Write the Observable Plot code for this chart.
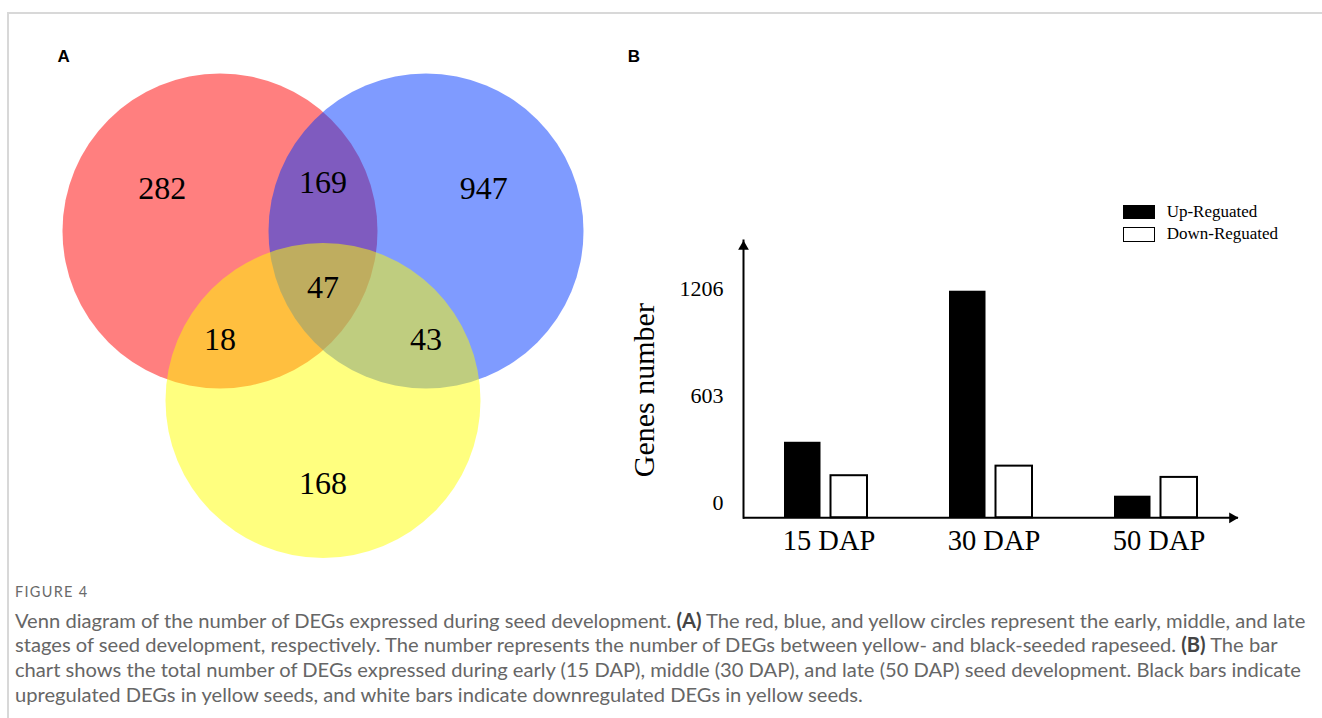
<!DOCTYPE html>
<html>
<head>
<meta charset="utf-8">
<script src="https://cdn.jsdelivr.net/npm/d3@7"></script>
<script src="https://cdn.jsdelivr.net/npm/@observablehq/plot@0.6"></script>
<style>
  html, body { margin: 0; padding: 0; background: #fff; }
  #page { position: relative; width: 1322px; height: 718px; overflow: hidden; background: #fff; }
  #frame { position: absolute; left: 7px; top: 12px; right: -10px; bottom: -10px;
           border-top: 2px solid #d8d8d8; border-left: 2px solid #d8d8d8; z-index: 5; pointer-events: none; }
  .panel { position: absolute; font-family: "Liberation Sans", Arial, sans-serif; font-weight: bold;
           font-size: 17px; line-height: 17px; color: #000; }
  #venn { position: absolute; left: 0; top: 0; width: 640px; height: 580px; }
  #bars { position: absolute; left: 600px; top: 180px; width: 700px; height: 400px; }
  .lrow { position: absolute; left: 1122.7px; height: 14.3px; display: flex; align-items: center;
          font-family: "Liberation Serif", "Times New Roman", serif; font-size: 17px; color: #000; }
  .lbox { width: 32.3px; height: 14.3px; box-sizing: border-box; }
  .ltxt { margin-left: 11.7px; line-height: 14px; white-space: nowrap; }
  #figlabel { position: absolute; left: 15px; top: 584px; font-family: Lato, "Open Sans", sans-serif;
              font-size: 14.5px; line-height: 16px; color: #6a6a6a; letter-spacing: 1.3px; }
  #caption { position: absolute; left: 15px; top: 607.6px; font-family: Lato, "Open Sans", sans-serif;
             line-height: 24.7px; color: #666; font-size: 18px; }
  #caption div { white-space: nowrap; }
  #caption b { color: #444; }
</style>
</head>
<body>
<div id="page">
  <div id="venn"></div>
  <div id="bars"></div>
  <div class="panel" style="left:57.5px; top:47.6px;">A</div>
  <div class="panel" style="left:627.8px; top:47.6px;">B</div>
  <div id="legend"></div>
  <div id="figlabel">FIGURE 4</div>
  <div id="caption"></div>
  <div id="frame"></div>
</div>
<script>
// ---------------- data ----------------
const vennSets = ["Early", "Middle", "Late"];
const regionSets = [["Early"], ["Middle"], ["Late"], ["Early", "Middle"], ["Early", "Late"], ["Middle", "Late"], ["Early", "Middle", "Late"]];
const regionCounts = [282, 947, 168, 169, 18, 43, 47];

const stages = ["15 DAP", "30 DAP", "50 DAP"];
const upRegulated = [402, 1206, 115];
const downRegulated = [224, 275, 215];
const seriesNames = ["Up-Reguated", "Down-Reguated"];
const yTicks = [0, 603, 1206];
const yAxisTitle = "Genes number";

const captionLines = [
  "Venn diagram of the number of DEGs expressed during seed development. <b>(A)</b> The red, blue, and yellow circles represent the early, middle, and late",
  "stages of seed development, respectively. The number represents the number of DEGs between yellow- and black-seeded rapeseed. <b>(B)</b> The bar",
  "chart shows the total number of DEGs expressed during early (15 DAP), middle (30 DAP), and late (50 DAP) seed development. Black bars indicate",
  "upregulated DEGs in yellow seeds, and white bars indicate downregulated DEGs in yellow seeds."
];

// ---------------- Venn (panel A) ----------------
const vennColors = ["#ff0000", "#0037ff", "#ffff00"];
const VW = 640, VH = 580;
// layout in circle-radius units, centroid of the three centres at the origin
const gap = 1.308, drop = 1.076;
const centers = {
  Early: [-gap / 2, drop / 3],
  Middle: [gap / 2, drop / 3],
  Late: [0, -2 * drop / 3]
};
const unitPx = 157.5, originPx = [322.5, 287];
const xDom = [-originPx[0] / unitPx, (VW - originPx[0]) / unitPx];
const yDom = [-(VH - originPx[1]) / unitPx, originPx[1] / unitPx];
const rPx = VW / (xDom[1] - xDom[0]);

const circles = vennSets.map((s, i) => ({set: s, cx: centers[s][0], cy: centers[s][1], color: vennColors[i]}));
// labels pushed outward from the centroid along the mean of the member centres
const pushOut = {1: [1.56, 1.74], 2: [2.0, 1.85], 3: [1, 1]};
const regionLabels = regionSets.map((sets, i) => {
  const [kx, ky] = pushOut[sets.length];
  return {
    x: kx * d3.mean(sets, s => centers[s][0]),
    y: ky * d3.mean(sets, s => centers[s][1]),
    count: regionCounts[i]
  };
});

const venn = Plot.plot({
  width: VW, height: VH,
  margin: 0,
  style: {background: "transparent", overflow: "visible"},
  x: {domain: xDom, axis: null},
  y: {domain: yDom, axis: null},
  color: {type: "identity"},
  marks: [
    Plot.dot(circles, {x: "cx", y: "cy", r: rPx, fill: "color", fillOpacity: 0.5, stroke: null}),
    Plot.text(regionLabels, {x: "x", y: "y", text: d => String(d.count), fontSize: 32,
      fontFamily: "Liberation Serif", fill: "#000"})
  ]
});
document.getElementById("venn").appendChild(venn);

// ---------------- Bar chart (panel B) ----------------
const barData = stages.flatMap((stage, i) => [
  {stage, series: seriesNames[0], value: upRegulated[i]},
  {stage, series: seriesNames[1], value: downRegulated[i]}
]);
const yMax = 1476;

const bars = Plot.plot({
  width: 700, height: 400,
  marginTop: 60, marginBottom: 62.7, marginLeft: 143, marginRight: 62,
  style: {background: "transparent", fontFamily: "Liberation Serif", color: "#000", overflow: "visible"},
  x: {domain: stages, padding: 0, axis: null},
  y: {domain: [0, yMax], axis: null},
  marks: [
    Plot.barY(barData.filter(d => d.series === seriesNames[0]),
      {x: "stage", y: "value", fill: "#000", insetLeft: 41, insetRight: 87.5}),
    Plot.barY(barData.filter(d => d.series === seriesNames[1]),
      {x: "stage", y: "value", fill: "#fff", stroke: "#000", strokeWidth: 2, insetLeft: 87.5, insetRight: 41}),
    Plot.frame({anchor: "left", stroke: "#000", strokeWidth: 2}),
    Plot.ruleY([0], {stroke: "#000", strokeWidth: 2}),
    Plot.dot(["y-arrow"], {frameAnchor: "top-left", symbol: "triangle", r: 4, fill: "#000", stroke: null, dy: 6.2}),
    Plot.dot(["x-arrow"], {frameAnchor: "bottom-right", symbol: "triangle", r: 4, fill: "#000", stroke: null, rotate: 90, dx: -6.2}),
    // tick labels sit progressively higher than their tick the lower they are, as in the original
    ...yTicks.map(t => Plot.axisY({ticks: [t], tickSize: 0, tickPadding: 20, fontSize: 22,
      fontFamily: "Liberation Serif", dy: -15 + 12.3 * t / yTicks[yTicks.length - 1],
      tickFormat: d => String(d), label: null})),
    Plot.axisX({tickSize: 0, tickPadding: 12, fontSize: 28.5, fontFamily: "Liberation Serif", label: null, dx: 3}),
    Plot.text([yAxisTitle], {frameAnchor: "left", text: d => d, rotate: -90, textAnchor: "middle",
      lineAnchor: "middle", dx: -99, dy: 11, fontSize: 30, fontFamily: "Liberation Serif", fill: "#000"})
  ]
});
document.getElementById("bars").appendChild(bars);

// legend
const legend = document.getElementById("legend");
seriesNames.forEach((name, i) => {
  const row = document.createElement("div");
  row.className = "lrow";
  row.style.top = (205 + i * 22.3) + "px";
  const box = document.createElement("span");
  box.className = "lbox";
  if (i === 0) box.style.background = "#000";
  else { box.style.background = "#fff"; box.style.border = "1.4px solid #000"; }
  const txt = document.createElement("span");
  txt.className = "ltxt";
  txt.textContent = name;
  row.appendChild(box); row.appendChild(txt);
  legend.appendChild(row);
});

// caption
const cap = document.getElementById("caption");
captionLines.forEach(l => {
  const div = document.createElement("div");
  div.innerHTML = "<span>" + l + "</span>";
  cap.appendChild(div);
});
function fitCaption() {
  cap.style.fontSize = "18px";
  const w = cap.querySelector("span").getBoundingClientRect().width;
  if (w > 0) cap.style.fontSize = (18 * 1291 / w) + "px";
}
fitCaption();
if (document.fonts && document.fonts.ready) document.fonts.ready.then(fitCaption);
</script>
</body>
</html>
